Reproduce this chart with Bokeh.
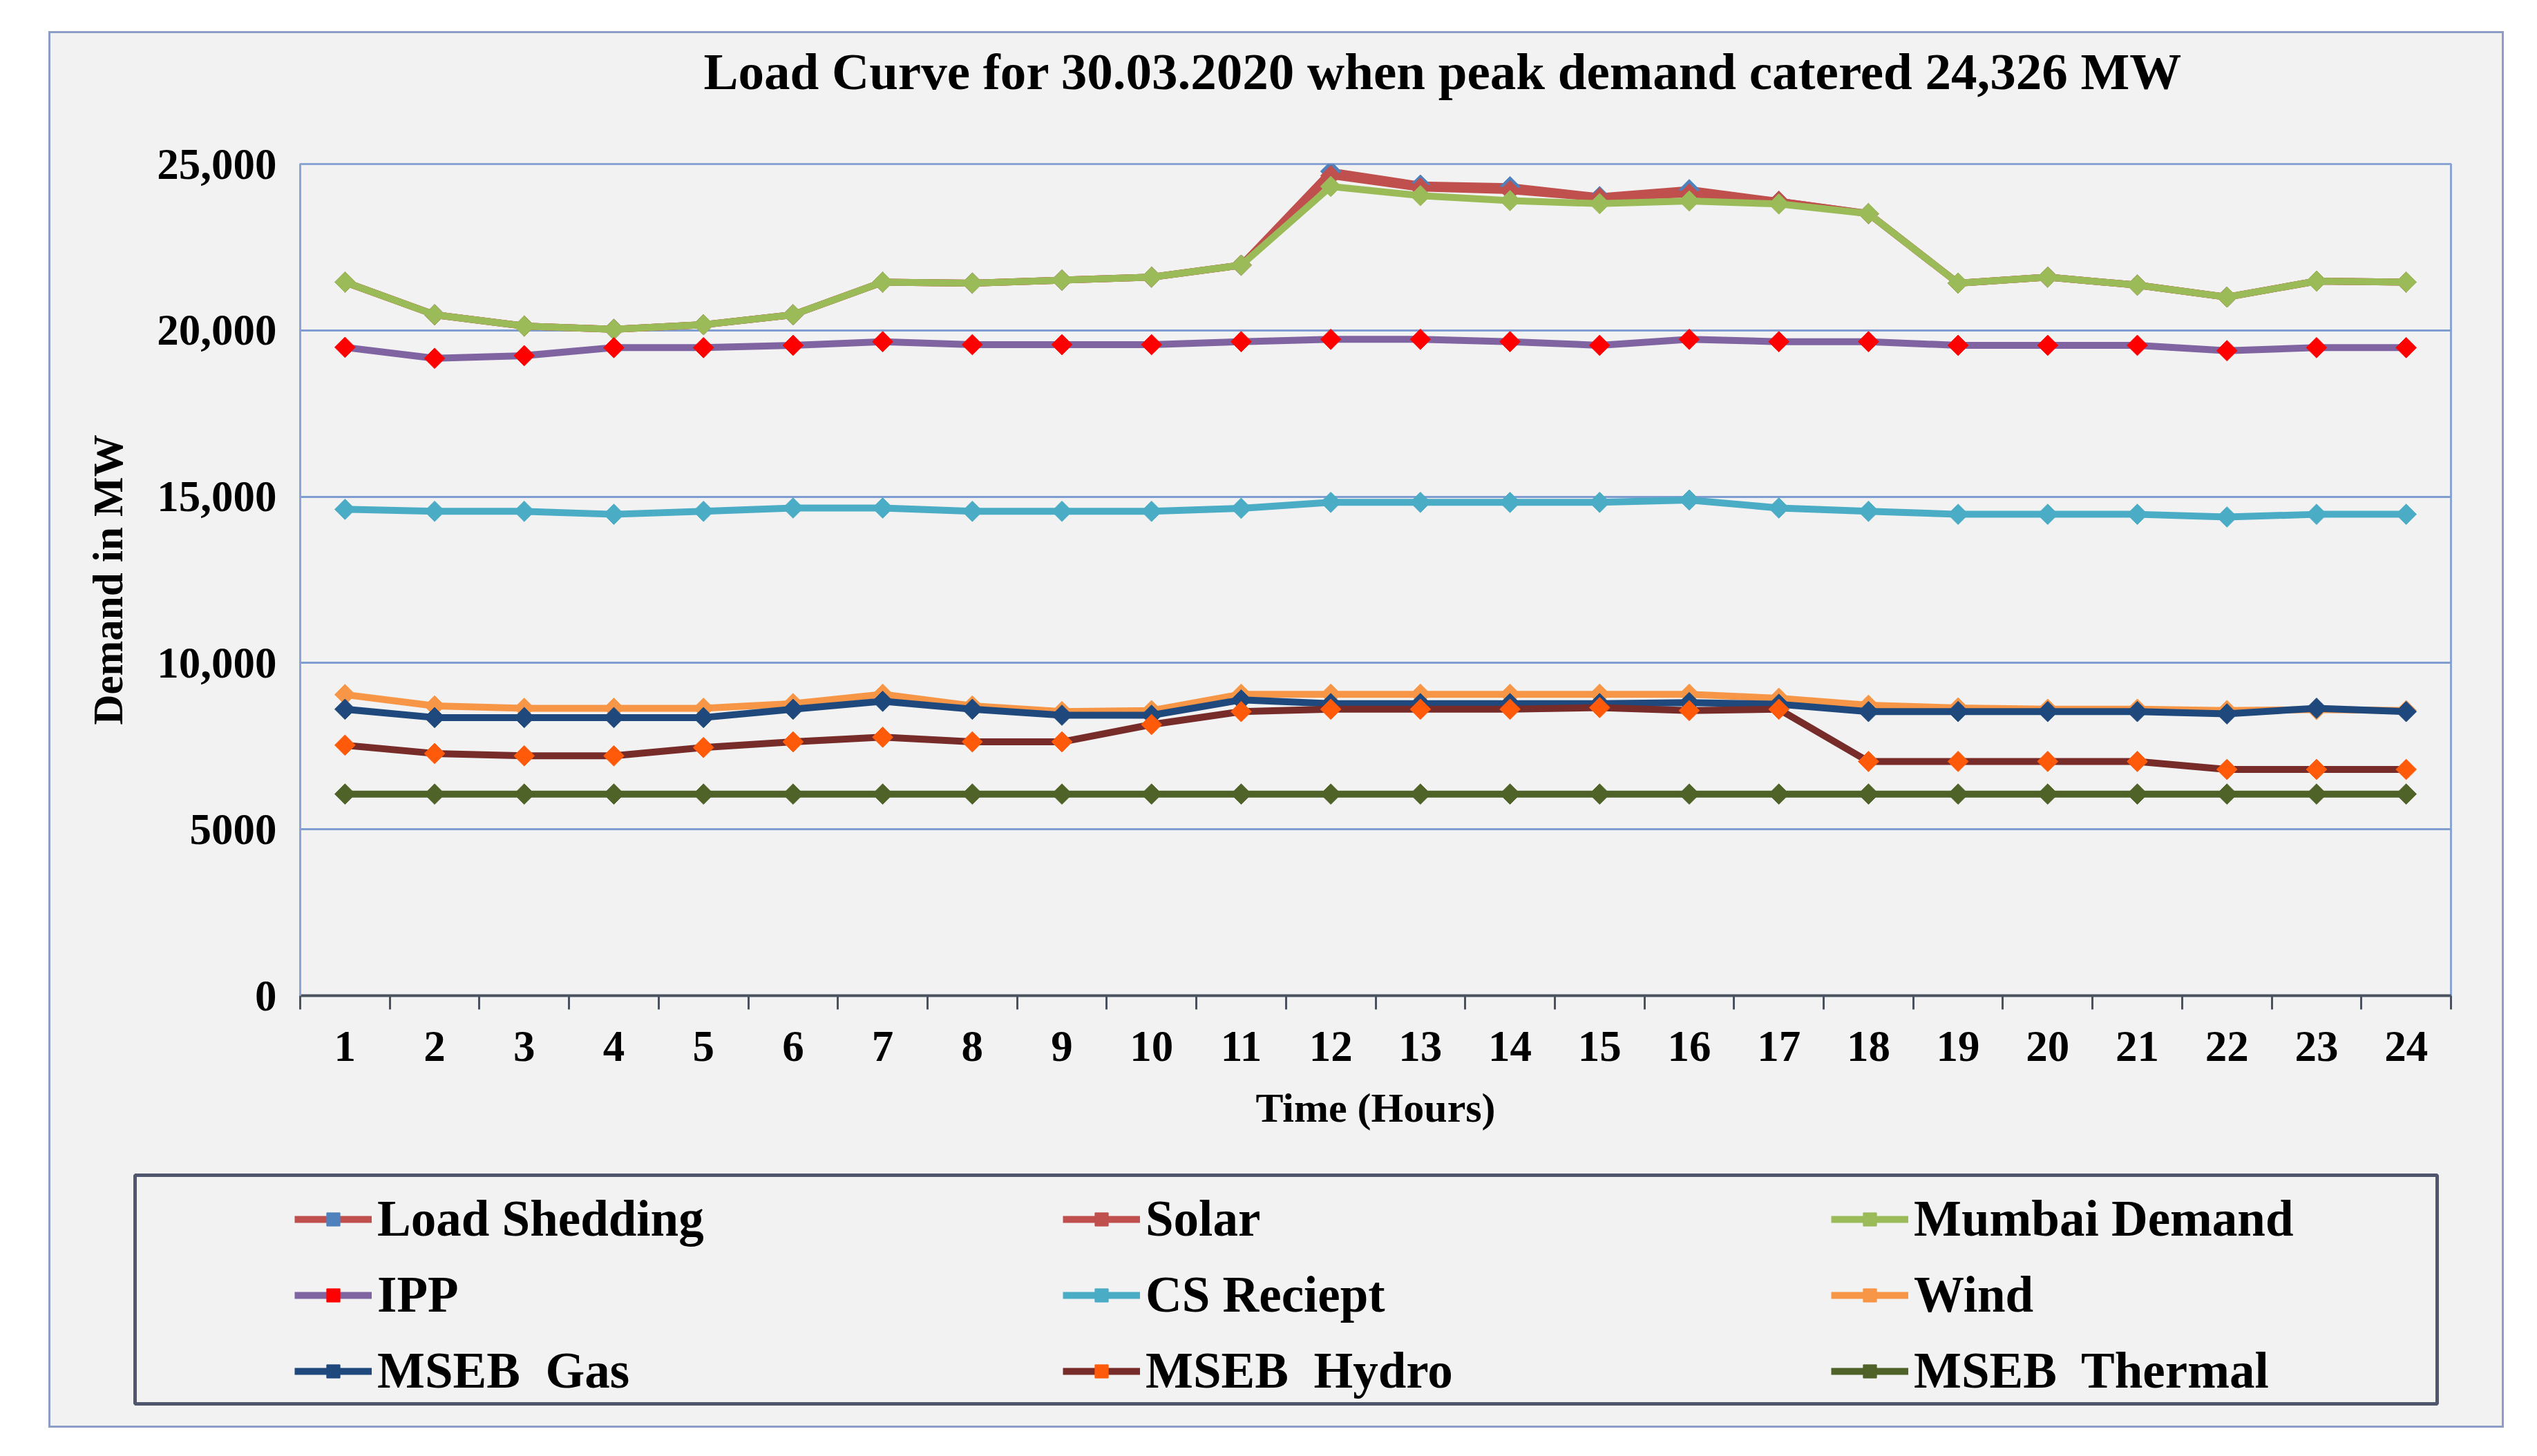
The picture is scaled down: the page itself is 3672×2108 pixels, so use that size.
import math
from bokeh.plotting import figure
from bokeh.layouts import column
from bokeh.models import Legend, LegendItem, FixedTicker, Range1d
from bokeh.embed import file_html
from bokeh.resources import INLINE

# ---------------- data ----------------
hours = list(range(1, 25))

load_shedding = [21450, 20470, 20130, 20030, 20170, 20470, 21450, 21420, 21510, 21600, 21960, 24780,
                 24370, 24320, 24020, 24230, 23880, 23510, 21420, 21600, 21360, 21000, 21480, 21450]
solar = [21450, 20470, 20130, 20030, 20170, 20470, 21450, 21420, 21510, 21600, 21960, 24650,
         24280, 24200, 23980, 24100, 23880, 23510, 21420, 21600, 21360, 21000, 21480, 21450]
mumbai_demand = [21450, 20470, 20130, 20030, 20170, 20470, 21450, 21420, 21510, 21600, 21960, 24326,
                 24050, 23900, 23810, 23890, 23800, 23510, 21420, 21600, 21360, 21000, 21480, 21450]
ipp = [19490, 19160, 19240, 19480, 19480, 19550, 19660, 19570, 19570, 19570, 19660, 19730,
       19730, 19660, 19550, 19730, 19660, 19660, 19550, 19550, 19550, 19390, 19480, 19480]
cs_reciept = [14620, 14560, 14560, 14470, 14560, 14660, 14660, 14560, 14560, 14560, 14650, 14830,
              14830, 14830, 14830, 14900, 14660, 14560, 14470, 14470, 14470, 14390, 14470, 14470]
wind = [9050, 8710, 8640, 8640, 8640, 8780, 9060, 8710, 8540, 8570, 9060, 9060,
        9060, 9060, 9060, 9060, 8940, 8730, 8650, 8610, 8610, 8570, 8600, 8570]
mseb_gas = [8610, 8360, 8360, 8360, 8360, 8610, 8850, 8610, 8430, 8430, 8890, 8780,
            8780, 8780, 8780, 8810, 8760, 8540, 8540, 8540, 8540, 8470, 8640, 8540]
mseb_hydro = [7530, 7280, 7210, 7210, 7460, 7630, 7770, 7630, 7630, 8150, 8540, 8610,
              8610, 8610, 8660, 8570, 8610, 7040, 7040, 7040, 7040, 6800, 6800, 6800]
mseb_thermal = [6060, 6060, 6060, 6060, 6060, 6060, 6060, 6060, 6060, 6060, 6060, 6060,
                6060, 6060, 6060, 6060, 6060, 6060, 6060, 6060, 6060, 6060, 6060, 6060]

series_names = ["Load Shedding", "Solar", "Mumbai Demand", "IPP", "CS Reciept", "Wind",
                "MSEB  Gas", "MSEB  Hydro", "MSEB  Thermal"]
series_values = [load_shedding, solar, mumbai_demand, ipp, cs_reciept, wind,
                 mseb_gas, mseb_hydro, mseb_thermal]
line_colors = ["#c0504d", "#c0504d", "#9bbb59", "#8064a2", "#4bacc6", "#f79646",
               "#1f497d", "#772c2a", "#4f6228"]
marker_colors = ["#4f81bd", "#c0504d", "#9bbb59", "#ff0000", "#4bacc6", "#f79646",
                 "#1f497d", "#ff5a0a", "#4f6228"]

y_ticks = [0, 5000, 10000, 15000, 20000, 25000]
y_tick_labels = ["0", "5000", "10,000", "15,000", "20,000", "25,000"]

title_text = "Load Curve for 30.03.2020 when peak demand catered 24,326 MW"
x_title = "Time (Hours)"
y_title = "Demand in MW"

# ---------------- layout constants ----------------
FONT = "Liberation Serif"
BG = "#f2f2f2"
W = 3548
H_T = 130
H_MAIN = 1510
H_LEG = 376


def blank_fig(height, **kw):
    f = figure(width=W, height=height, output_backend="svg", toolbar_location=None,
               x_range=Range1d(hours[0] - 0.5, hours[-1] + 0.5),
               y_range=Range1d(y_ticks[0], y_ticks[-1]),
               x_axis_location=None, y_axis_location=None, frame_align=False, **kw)
    f.background_fill_color = BG
    f.border_fill_color = BG
    f.grid.visible = False
    return f


# ---------------- title strip ----------------
t = blank_fig(H_T, min_border_left=0, min_border_right=0, min_border_top=0, min_border_bottom=0)
t.outline_line_color = None
t.title.text = title_text
t.title.text_font = FONT
t.title.text_font_style = "bold"
t.title.text_font_size = "75px"
t.title.text_color = "black"
t.title.align = "left"
t.title.offset = 945
t.title.standoff = 22

# ---------------- main chart ----------------
p = figure(width=W, height=H_MAIN, output_backend="svg", toolbar_location=None,
           x_range=Range1d(hours[0] - 0.5, hours[-1] + 0.5),
           y_range=Range1d(y_ticks[0], y_ticks[-1]),
           min_border_left=361, min_border_right=74,
           min_border_top=189 - H_T, min_border_bottom=H_MAIN - (1393 - H_T),
           frame_align=False)

p.background_fill_color = BG
p.border_fill_color = BG
p.outline_line_color = "#8aa4d4"
p.outline_line_width = 3

xa = p.xaxis[0]
xa.ticker = FixedTicker(ticks=hours, minor_ticks=[h - 0.5 for h in hours] + [hours[-1] + 0.5])
xa.major_tick_out = 0
xa.major_tick_in = 0
xa.minor_tick_out = 20
xa.minor_tick_in = 0
xa.minor_tick_line_color = "#4a5260"
xa.minor_tick_line_width = 3
xa.axis_line_color = "#4a5260"
xa.axis_line_width = 4
xa.major_label_text_font = FONT
xa.major_label_text_font_style = "bold"
xa.major_label_text_font_size = "63px"
xa.major_label_text_color = "black"
xa.major_label_standoff = 32
xa.axis_label = x_title
xa.axis_label_text_font = FONT
xa.axis_label_text_font_style = "bold"
xa.axis_label_text_font_size = "60px"
xa.axis_label_text_color = "black"
xa.axis_label_standoff = 32

ya = p.yaxis[0]
ya.ticker = FixedTicker(ticks=y_ticks)
ya.major_label_overrides = dict(zip(y_ticks, y_tick_labels))
ya.major_tick_out = 0
ya.major_tick_in = 0
ya.minor_tick_out = 0
ya.minor_tick_in = 0
ya.axis_line_color = "#8aa4d4"
ya.axis_line_width = 3
ya.major_label_text_font = FONT
ya.major_label_text_font_style = "bold"
ya.major_label_text_font_size = "63px"
ya.major_label_text_color = "black"
ya.major_label_standoff = 34
ya.axis_label = y_title
ya.axis_label_text_font = FONT
ya.axis_label_text_font_style = "bold"
ya.axis_label_text_font_size = "61px"
ya.axis_label_text_color = "black"
ya.axis_label_standoff = 34

p.xgrid.visible = False
p.ygrid.grid_line_color = "#7f9dd0"
p.ygrid.grid_line_width = 3

LW = 10
MS = 21
for vals, lc, mc in zip(series_values, line_colors, marker_colors):
    p.line(hours, vals, line_color=lc, line_width=LW)
    p.scatter(hours, vals, marker="square", angle=math.pi / 4, size=MS,
              fill_color=mc, line_color=mc)

# ---------------- legend panel (its frame is the legend box) ----------------
top_q = 1653 - (H_T + H_MAIN)
bot_q = H_LEG - (1984 - (H_T + H_MAIN))
q = blank_fig(H_LEG, min_border_left=122, min_border_right=W - 3454,
              min_border_top=top_q, min_border_bottom=bot_q)
q.outline_line_color = "#50566e"
q.outline_line_width = 5

items = []
for name, vals, lc, mc in zip(series_names, series_values, line_colors, marker_colors):
    rl = q.line(hours, vals, line_color=lc, line_width=LW, visible=False)
    rm = q.scatter(hours, vals, marker="square", angle=math.pi / 4, size=MS,
                   fill_color=mc, line_color=mc, visible=False)
    items.append(LegendItem(label=name, renderers=[rl, rm]))

legend = Legend(items=items, orientation="horizontal", ncols=3,
                location=(220, -9), padding=11, spacing=20, margin=0,
                glyph_width=112, glyph_height=48, label_standoff=8,
                label_width=972, label_height=90,
                label_text_font=FONT, label_text_font_style="bold",
                label_text_font_size="73px", label_text_color="black",
                border_line_alpha=0.0, background_fill_alpha=0.0,
                inactive_fill_alpha=0.0)
q.add_layout(legend, "center")

layout = column(t, p, q, spacing=0, margin=(45, 0, 0, 70),
                styles={"border": "3px solid #8d9dc6", "background-color": BG})

open("out.html", "w").write(file_html(layout, INLINE))
